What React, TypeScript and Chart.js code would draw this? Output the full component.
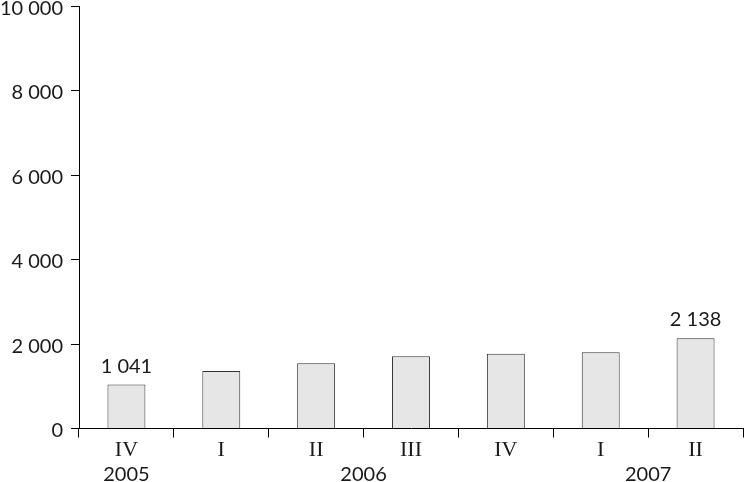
import React, { useEffect, useRef } from "react";
import { Chart, registerables } from "chart.js";

Chart.register(...registerables);

const quarters: string[] = ["IV", "I", "II", "III", "IV", "I", "II"];
const values: number[] = [1041, 1363, 1545, 1711, 1773, 1806, 2138];
const yearGroups: { year: string; from: number; to: number }[] = [
  { year: "2005", from: 0, to: 0 },
  { year: "2006", from: 1, to: 4 },
  { year: "2007", from: 5, to: 6 },
];
const labelledBars: number[] = [0, 6];
const yTicks: number[] = [0, 2000, 4000, 6000, 8000, 10000];

const fmt = (v: number) => String(Math.round(v)).replace(/\B(?=(\d{3})+(?!\d))/g, " ");

const NUM_FONT = "Lato";
const SERIF_FONT = "'Liberation Serif'";

export default function App() {
  const ref = useRef<HTMLCanvasElement | null>(null);

  useEffect(() => {
    if (!ref.current) return;
    const extras = {
      id: "extras",
      afterDraw(chart: any) {
        const ctx = chart.ctx;
        const x = chart.scales.x;
        const area = chart.chartArea;
        ctx.save();
        ctx.fillStyle = "#1a1a1a";
        ctx.textAlign = "center";
        ctx.textBaseline = "middle";
        ctx.font = `20px ${NUM_FONT}`;
        for (const g of yearGroups) {
          const cx = (x.getPixelForValue(g.from) + x.getPixelForValue(g.to)) / 2;
          ctx.fillText(g.year, cx, area.bottom + 46);
        }
        const meta = chart.getDatasetMeta(0);
        ctx.font = `20px ${NUM_FONT}`;
        ctx.textBaseline = "alphabetic";
        for (const i of labelledBars) {
          const el = meta.data[i];
          ctx.fillText(fmt(values[i]), el.x, el.y - 12);
        }
        ctx.restore();
      },
    };

    const chart = new Chart(ref.current, {
      type: "bar",
      data: {
        labels: quarters,
        datasets: [
          {
            data: values,
            backgroundColor: "#e6e6e6",
            borderColor: "#333333",
            borderWidth: 1,
            barPercentage: 0.4,
            categoryPercentage: 1,
          },
        ],
      },
      options: {
        responsive: false,
        animation: false,
        layout: { padding: { top: 6.5, right: 1, left: 0, bottom: 0 } },
        plugins: { legend: { display: false }, tooltip: { enabled: false } },
        scales: {
          x: {
            offset: true,
            grid: {
              offset: true,
              drawOnChartArea: false,
              drawTicks: true,
              tickLength: 9,
              color: "#000",
              lineWidth: 1,
            },
            border: { display: true, color: "#000", width: 1 },
            ticks: {
              color: "#1a1a1a",
              font: { family: SERIF_FONT, size: 22 },
              padding: 0,
              maxRotation: 0,
              autoSkip: false,
            },
            afterFit: (s: any) => {
              s.height = 53.5;
              s.paddingLeft = 0;
              s.paddingRight = 0;
            },
          },
          y: {
            min: 0,
            max: 10000,
            afterBuildTicks: (s: any) => {
              s.ticks = yTicks.map((v) => ({ value: v }));
            },
            grid: {
              drawOnChartArea: false,
              drawTicks: true,
              tickLength: 8,
              color: "#000",
              lineWidth: 1,
            },
            border: { display: true, color: "#000", width: 1 },
            ticks: {
              color: "#1a1a1a",
              font: { family: NUM_FONT, size: 20, lineHeight: "4px" },
              padding: 8,
              callback: (v: any) => ["", fmt(Number(v))],
            },
            afterFit: (s: any) => {
              s.width = 79;
              s.paddingTop = 0;
              s.paddingBottom = 0;
            },
          },
        },
      },
      plugins: [extras],
    });
    return () => chart.destroy();
  }, []);

  return (
    <div style={{ position: "fixed", left: 0, top: 0, width: 744, height: 482, background: "#fff" }}>
      <canvas ref={ref} width={744} height={482} style={{ display: "block" }} />
    </div>
  );
}
